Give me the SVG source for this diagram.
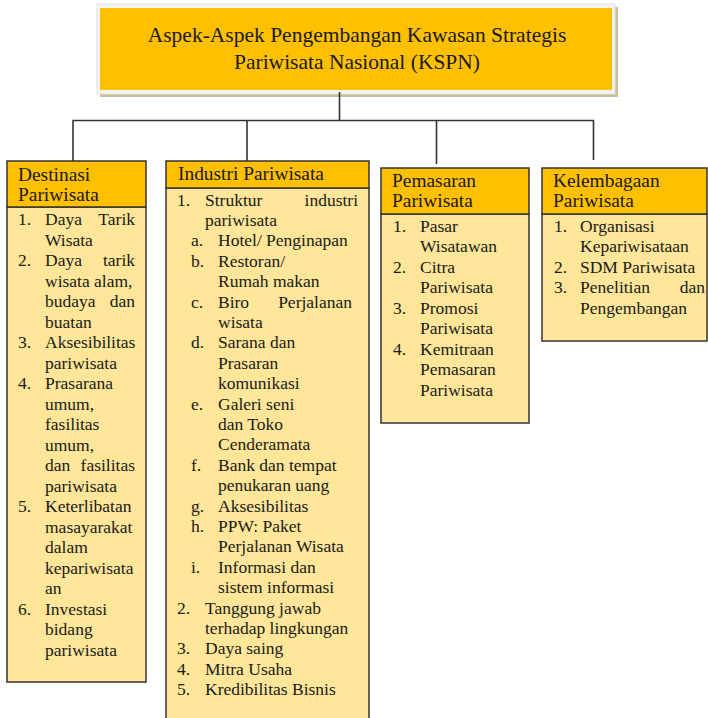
<svg xmlns="http://www.w3.org/2000/svg" width="708" height="718" viewBox="0 0 708 718">
  <style>
    .hd { fill: #FFC000; stroke: #333; stroke-width: 1.5; }
    .bd { fill: #FFE699; stroke: #333; stroke-width: 1.5; }
    .ln { stroke: #333; stroke-width: 1.6; fill: none; }
    text { font-family: "Liberation Serif", "Times New Roman", serif; fill: #1a1a1a; }
    .t { font-size: 21.5px; }
    .h { font-size: 19.4px; }
    .b { font-size: 17.5px; }
    .e { text-anchor: end; }
  </style>
  <rect width="708" height="718" fill="#ffffff"/>

  <!-- title node -->
  <g id="title">
    <rect x="100" y="7" width="518" height="90" fill="#c9bd97"/>
    <rect x="97" y="4" width="518" height="90" fill="#f3f3f3" stroke="#e2e2e2" stroke-width="1"/>
    <rect x="100" y="8" width="512" height="82" fill="#FFC000"/>
    <text class="t" x="357" y="42" text-anchor="middle">Aspek-Aspek Pengembangan Kawasan Strategis</text>
    <text class="t" x="357" y="68.5" text-anchor="middle">Pariwisata Nasional (KSPN)</text>
  </g>

  <!-- connectors -->
  <g id="connectors">
    <path class="ln" d="M339.5 92 V120.5 M72.5 120.5 H594 M73 120.5 V161 M247 120.5 V161 M436.5 120.5 V164 M593.5 120.5 V160"/>
  </g>

  <!-- Destinasi Pariwisata -->
  <g id="destinasi">
    <rect class="bd" x="7" y="207" width="139" height="475"/>
    <rect class="hd" x="7" y="161" width="139" height="46"/>
    <text class="h" x="18" y="180.5">Destinasi</text>
    <text class="h" x="18" y="201">Pariwisata</text>
    <g class="b">
      <text class="b" x="18" y="225">1.</text>
      <text class="b" x="45" y="225">Daya</text><text class="b e" x="135" y="225">Tarik</text>
      <text class="b" x="45" y="245.5">Wisata</text>
      <text class="b" x="18" y="266">2.</text>
      <text class="b" x="45" y="266">Daya</text><text class="b e" x="135" y="266">tarik</text>
      <text class="b" x="45" y="286.5">wisata alam,</text>
      <text class="b" x="45" y="307">budaya</text><text class="b e" x="135" y="307">dan</text>
      <text class="b" x="45" y="327.5">buatan</text>
      <text class="b" x="18" y="348">3.</text>
      <text class="b" x="45" y="348">Aksesibilitas</text>
      <text class="b" x="45" y="368.5">pariwisata</text>
      <text class="b" x="18" y="389">4.</text>
      <text class="b" x="45" y="389">Prasarana</text>
      <text class="b" x="45" y="409.5">umum,</text>
      <text class="b" x="45" y="430">fasilitas</text>
      <text class="b" x="45" y="450.5">umum,</text>
      <text class="b" x="45" y="471">dan</text><text class="b e" x="135" y="471">fasilitas</text>
      <text class="b" x="45" y="491.5">pariwisata</text>
      <text class="b" x="18" y="512">5.</text>
      <text class="b" x="45" y="512">Keterlibatan</text>
      <text class="b" x="45" y="532.5">masayarakat</text>
      <text class="b" x="45" y="553">dalam</text>
      <text class="b" x="45" y="573.5">kepariwisata</text>
      <text class="b" x="45" y="594">an</text>
      <text class="b" x="18" y="614.5">6.</text>
      <text class="b" x="45" y="614.5">Investasi</text>
      <text class="b" x="45" y="635">bidang</text>
      <text class="b" x="45" y="655.5">pariwisata</text>
    </g>
  </g>

  <!-- Industri Pariwisata -->
  <g id="industri">
    <rect class="bd" x="166" y="188" width="203" height="540"/>
    <rect class="hd" x="166" y="161" width="203" height="27"/>
    <text class="h" x="178" y="180">Industri Pariwisata</text>
    <text class="b" x="177" y="205.5">1.</text>
    <text class="b" x="205" y="205.5">Struktur</text><text class="b e" x="358" y="205.5">industri</text>
    <text class="b" x="205" y="225.9">pariwisata</text>
    <text class="b" x="191" y="246.3">a.</text><text class="b" x="218" y="246.3">Hotel/ Penginapan</text>
    <text class="b" x="191" y="266.7">b.</text><text class="b" x="218" y="266.7">Restoran/</text>
    <text class="b" x="218" y="287.1">Rumah makan</text>
    <text class="b" x="191" y="307.5">c.</text><text class="b" x="218" y="307.5">Biro</text><text class="b e" x="352" y="307.5">Perjalanan</text>
    <text class="b" x="218" y="327.9">wisata</text>
    <text class="b" x="191" y="348.3">d.</text><text class="b" x="218" y="348.3">Sarana dan</text>
    <text class="b" x="218" y="368.7">Prasaran</text>
    <text class="b" x="218" y="389.1">komunikasi</text>
    <text class="b" x="191" y="409.5">e.</text><text class="b" x="218" y="409.5">Galeri seni</text>
    <text class="b" x="218" y="429.9">dan Toko</text>
    <text class="b" x="218" y="450.3">Cenderamata</text>
    <text class="b" x="191" y="470.7">f.</text><text class="b" x="218" y="470.7">Bank dan tempat</text>
    <text class="b" x="218" y="491.1">penukaran uang</text>
    <text class="b" x="191" y="511.5">g.</text><text class="b" x="218" y="511.5">Aksesibilitas</text>
    <text class="b" x="191" y="531.9">h.</text><text class="b" x="218" y="531.9">PPW: Paket</text>
    <text class="b" x="218" y="552.3">Perjalanan Wisata</text>
    <text class="b" x="191" y="572.7">i.</text><text class="b" x="218" y="572.7">Informasi dan</text>
    <text class="b" x="218" y="593.1">sistem informasi</text>
    <text class="b" x="177" y="613.5">2.</text><text class="b" x="205" y="613.5">Tanggung jawab</text>
    <text class="b" x="205" y="633.9">terhadap lingkungan</text>
    <text class="b" x="177" y="654.3">3.</text><text class="b" x="205" y="654.3">Daya saing</text>
    <text class="b" x="177" y="674.7">4.</text><text class="b" x="205" y="674.7">Mitra Usaha</text>
    <text class="b" x="177" y="695.1">5.</text><text class="b" x="205" y="695.1">Kredibilitas Bisnis</text>
  </g>

  <!-- Pemasaran Pariwisata -->
  <g id="pemasaran">
    <rect class="bd" x="381" y="214" width="148" height="209"/>
    <rect class="hd" x="381" y="168" width="148" height="46"/>
    <text class="h" x="392" y="186.5">Pemasaran</text>
    <text class="h" x="392" y="207">Pariwisata</text>
    <text class="b" x="393" y="231.5">1.</text><text class="b" x="420" y="231.5">Pasar</text>
    <text class="b" x="420" y="252">Wisatawan</text>
    <text class="b" x="393" y="272.5">2.</text><text class="b" x="420" y="272.5">Citra</text>
    <text class="b" x="420" y="293">Pariwisata</text>
    <text class="b" x="393" y="313.5">3.</text><text class="b" x="420" y="313.5">Promosi</text>
    <text class="b" x="420" y="334">Pariwisata</text>
    <text class="b" x="393" y="354.5">4.</text><text class="b" x="420" y="354.5">Kemitraan</text>
    <text class="b" x="420" y="375">Pemasaran</text>
    <text class="b" x="420" y="395.5">Pariwisata</text>
  </g>

  <!-- Kelembagaan Pariwisata -->
  <g id="kelembagaan">
    <rect class="bd" x="542" y="214" width="165" height="127"/>
    <rect class="hd" x="542" y="168" width="165" height="46"/>
    <text class="h" x="553" y="186.5">Kelembagaan</text>
    <text class="h" x="553" y="207">Pariwisata</text>
    <text class="b" x="554" y="231.5">1.</text><text class="b" x="580" y="231.5">Organisasi</text>
    <text class="b" x="580" y="252">Kepariwisataan</text>
    <text class="b" x="554" y="272.5">2.</text><text class="b" x="580" y="272.5">SDM Pariwisata</text>
    <text class="b" x="554" y="293">3.</text><text class="b" x="580" y="293">Penelitian</text><text class="b e" x="705" y="293">dan</text>
    <text class="b" x="580" y="313.5">Pengembangan</text>
  </g>
</svg>
